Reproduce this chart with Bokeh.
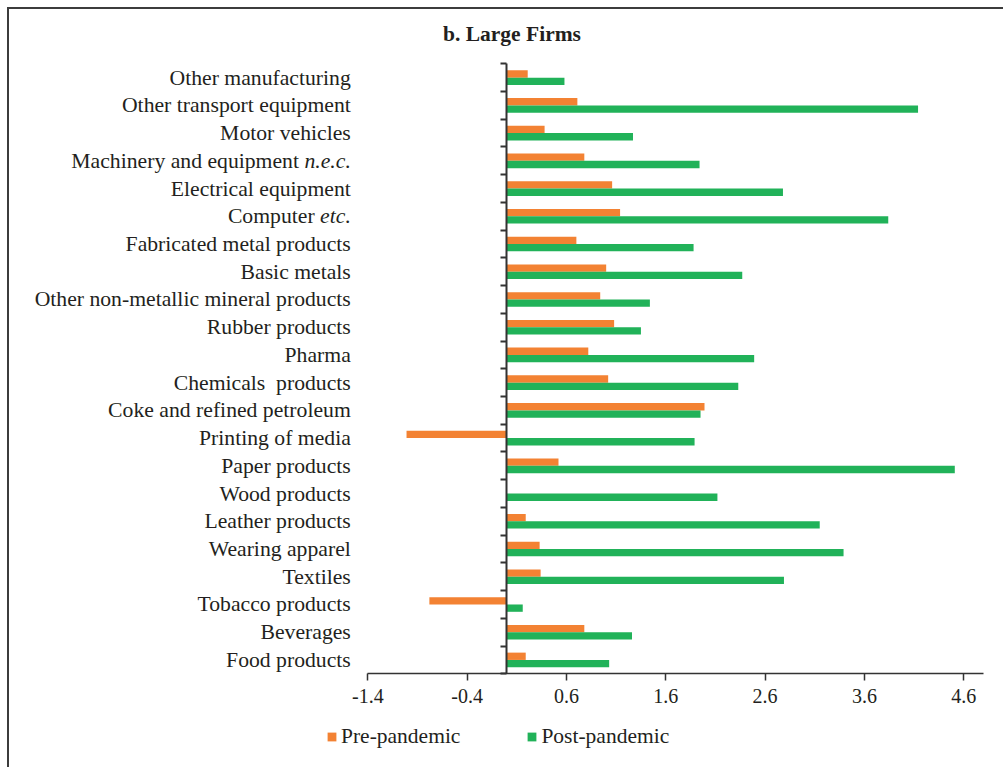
from bokeh.plotting import figure
from bokeh.models import (Range1d, FixedTicker, LinearAxis, Label, Legend,
                          LegendItem)
from bokeh.embed import file_html
from bokeh.resources import INLINE

# Industries, listed from the bottom row to the top row
categories = [
    "Food products", "Beverages", "Tobacco products", "Textiles",
    "Wearing apparel", "Leather products", "Wood products", "Paper products",
    "Printing of media", "Coke and refined petroleum",
    "Chemicals\u00a0 products", "Pharma", "Rubber products",
    "Other non-metallic mineral products", "Basic metals",
    "Fabricated metal products", "Computer etc.", "Electrical equipment",
    "Machinery and equipment n.e.c.", "Motor vehicles",
    "Other transport equipment", "Other manufacturing",
]
pre_pandemic = [0.19, 0.78, -0.78, 0.34, 0.33, 0.19, 0.0, 0.52, -1.01, 1.99,
                1.02, 0.82, 1.08, 0.94, 1.00, 0.70, 1.14, 1.06, 0.78, 0.38,
                0.71, 0.21]
post_pandemic = [1.03, 1.26, 0.16, 2.79, 3.39, 3.15, 2.12, 4.51, 1.89, 1.95,
                 2.33, 2.49, 1.35, 1.44, 2.37, 1.88, 3.84, 2.78, 1.94, 1.27,
                 4.14, 0.58]
x_ticks = [-1.4, -0.4, 0.6, 1.6, 2.6, 3.6, 4.6]
x_tick_labels = ["-1.4", "-0.4", "0.6", "1.6", "2.6", "3.6", "4.6"]
italic_terms = ["n.e.c.", "etc."]
title_text = "b. Large Firms"
series_names = ["Pre-pandemic", "Post-pandemic"]

ORANGE = "#F38233"
GREEN = "#21B259"
INK = "#231F20"
AXIS = "#333333"
FONT = "Liberation Serif"
LABEL_PX = 21.7

X0, X1 = -1.4, 4.8          # extent of the value axis
n = len(categories)

# canvas size and where the value axis / row block sit on it (pixels)
W, H = 996, 760
AX_L, AX_R = 358.3, 974.1    # x of X0 and X1
ROW_TOP, ROW_BOT = 54.3, 664.3   # y of the top and bottom row edges

ppx = (AX_R - AX_L) / (X1 - X0)
ppy = (ROW_BOT - ROW_TOP) / n
x_range = Range1d(X0 - AX_L / ppx, X1 + (W - AX_R) / ppx)
y_range = Range1d(-(H - ROW_BOT) / ppy, n + ROW_TOP / ppy)

p = figure(
    width=W, height=H, x_range=x_range, y_range=y_range,
    x_axis_location=None, y_axis_location=None,
    output_backend="svg", toolbar_location=None,
    min_border=0,
    styles={"margin-left": "7px", "margin-top": "7px",
            "border-left": "2px solid #3c3c3c",
            "border-top": "2px solid #3c3c3c"},
)
p.outline_line_color = None
p.xgrid.visible = False
p.ygrid.visible = False

# bars: two per industry, pre-pandemic on top
bar_h = 0.264
centers = [i + 0.5 for i in range(n)]
r_pre = p.hbar(y=[c + bar_h / 2 for c in centers], right=pre_pandemic, left=0,
               height=bar_h, fill_color=ORANGE, line_color=None)
r_post = p.hbar(y=[c - bar_h / 2 for c in centers], right=post_pandemic, left=0,
                height=bar_h, fill_color=GREEN, line_color=None)

# horizontal value axis along the bottom of the rows
x_axis = LinearAxis(
    fixed_location=0, bounds=(X0, X1),
    ticker=FixedTicker(ticks=x_ticks),
    major_label_overrides={t: s for t, s in zip(x_ticks, x_tick_labels)},
    axis_line_color=AXIS, axis_line_width=1.5,
    major_tick_line_color=AXIS, major_tick_line_width=1.5,
    major_tick_in=0, major_tick_out=7, minor_tick_line_color=None,
    major_label_standoff=8, major_label_text_font=FONT,
    major_label_text_font_size="20px", major_label_text_color=INK,
)
p.add_layout(x_axis, "below")

# vertical axis crossing at zero, ticks between the industry rows
bounds = list(range(n + 1))
zero_axis = LinearAxis(
    fixed_location=0, bounds=(0, n), ticker=FixedTicker(ticks=bounds),
    major_label_overrides={b: "" for b in bounds},
    axis_line_color=AXIS, axis_line_width=2,
    major_tick_line_color=AXIS, major_tick_line_width=2,
    major_tick_in=0, major_tick_out=6, minor_tick_line_color=None,
)
p.add_layout(zero_axis, "left")

# industry names, right-aligned at the left end of the value axis;
# trailing abbreviations are set in italics
italic_w = {"n": 0.5, ".": 0.25, "e": 0.444, "c": 0.444, "t": 0.278}
space_w = 0.25
gap = 17
for c, name in zip(centers, categories):
    plain, ital = name, None
    for term in italic_terms:
        if name.endswith(" " + term):
            plain, ital = name[: -len(term) - 1], term
    off = -gap
    if ital:
        p.add_layout(Label(x=X0, y=c, x_offset=off, text=ital,
                           text_font=FONT, text_font_size=f"{LABEL_PX}px",
                           text_font_style="italic", text_color=INK,
                           text_align="right", text_baseline="middle"))
        off -= (sum(italic_w[ch] for ch in ital) + space_w) * LABEL_PX
    p.add_layout(Label(x=X0, y=c, x_offset=off, text=plain,
                       text_font=FONT, text_font_size=f"{LABEL_PX}px",
                       text_color=INK, text_align="right",
                       text_baseline="middle"))

# title
p.add_layout(Label(x=502.5, y=H - 24, x_units="screen", y_units="screen",
                   text=title_text, text_font=FONT, text_font_size="21.5px",
                   text_font_style="bold", text_color=INK,
                   text_align="center", text_baseline="middle"))

legend = Legend(
    items=[LegendItem(label=series_names[0], renderers=[r_pre]),
           LegendItem(label=series_names[1], renderers=[r_post])],
    location=(317, 20), orientation="horizontal",
    padding=0, margin=0, spacing=66,
    glyph_width=11, glyph_height=11, label_standoff=4,
    label_text_font=FONT, label_text_font_size="21.5px",
    label_text_color=INK,
    border_line_color=None, background_fill_alpha=0,
)
p.add_layout(legend, "center")

open("out.html", "w").write(file_html(p, INLINE))
